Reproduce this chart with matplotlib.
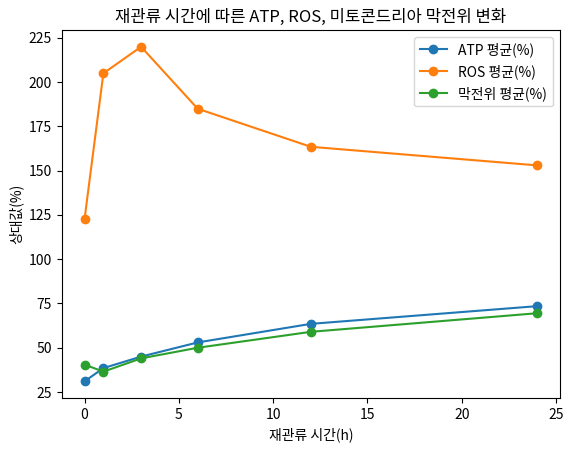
import matplotlib
matplotlib.use("Agg")
import matplotlib.pyplot as plt

plt.rcParams["font.family"] = ["Noto Sans CJK KR", "DejaVu Sans"]

hours = [0, 1, 3, 6, 12, 24]
atp = [31, 38.5, 45, 53, 63.5, 73.5]
ros = [122.5, 205, 220, 185, 163.5, 153]
membrane = [40.5, 36.5, 44, 50, 59, 69.5]

fig, ax = plt.subplots(figsize=(5.73, 4.55), dpi=100)
ax.plot(hours, atp, marker="o", label="ATP 평균(%)")
ax.plot(hours, ros, marker="o", label="ROS 평균(%)")
ax.plot(hours, membrane, marker="o", label="막전위 평균(%)")
ax.set_xlabel("재관류 시간(h)")
ax.set_ylabel("상대값(%)")
ax.set_title("재관류 시간에 따른 ATP, ROS, 미토콘드리아 막전위 변화")
ax.set_yticks(range(25, 226, 25))
ax.legend(loc="upper right")
fig.subplots_adjust(left=0.108, right=0.977, top=0.934, bottom=0.125)
fig.savefig("out.png")
